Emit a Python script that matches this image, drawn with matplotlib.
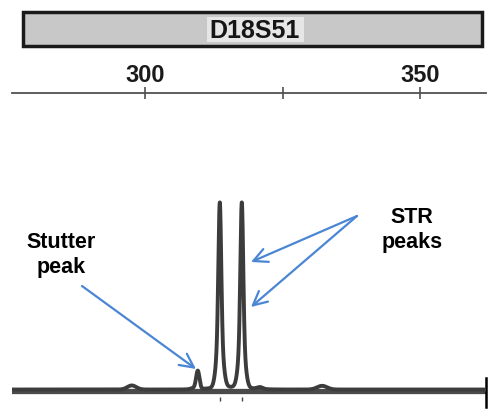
import numpy as np
import matplotlib
matplotlib.use("Agg")
import matplotlib.pyplot as plt
from matplotlib.patches import Rectangle

# ---- data ----
marker_name = "D18S51"
tick_positions = [300, 325, 350]
tick_labels = ["300", "", "350"]
# peak components: centre (bp), height (RFU-like units), width (sigma, bp)
peak_centers = [313.6, 317.6, 313.6, 317.6, 309.6, 297.6, 332.2, 315.6, 320.9, 309.0]
peak_heights = [700, 720, 300, 280, 95, 22, 20, 14, 10, 8]
peak_sigmas = [0.25, 0.25, 0.55, 0.55, 0.3, 0.8, 0.9, 3.2, 0.5, 0.6]
allele_marks = [313.6, 317.6]
stutter_label = "Stutter\npeak"
str_label = "STR\npeaks"

# ---- figure ----
fig = plt.figure(figsize=(5.0, 4.14), dpi=100)
W, H = 500, 414

def fx(px):
    return px / W

def fy(py):
    return 1 - py / H

# banner
fig.patches.append(Rectangle((fx(23), fy(47)), fx(482) - fx(23), fy(13) - fy(47),
                             transform=fig.transFigure, facecolor="#c8c8c8",
                             edgecolor="#1a1a1a", linewidth=2.5))
fig.patches.append(Rectangle((fx(207), fy(43)), fx(304) - fx(207), fy(18) - fy(43),
                             transform=fig.transFigure, facecolor="#e6e6e6",
                             edgecolor="none"))
fig.text(fx(255), fy(31), marker_name, ha="center", va="center",
         fontsize=18, fontweight="bold", family="Liberation Sans", color="#151515")

ax = fig.add_axes([fx(12), fy(404), fx(486) - fx(12), fy(94) - fy(404)])
ax.set_xlim(300 + (12 - 145) / 5.5, 300 + (486 - 145) / 5.5)
ax.set_ylim(-12 / 185 * 1000, (392 - 94) / 185 * 1000)

x = np.linspace(ax.get_xlim()[0], ax.get_xlim()[1], 6000)
y = np.zeros_like(x)
for c, h, s in zip(peak_centers, peak_heights, peak_sigmas):
    y += h * np.exp(-0.5 * ((x - c) / s) ** 2)

ax.axhline(0, color="#4a4a4a", linewidth=3.8, zorder=2)
ax.plot(x, y + 8, color="#3c3c3c", linewidth=2.8, zorder=3, solid_joinstyle="round")
ax.plot(allele_marks, [-45] * len(allele_marks), linestyle="none", marker="|",
        markersize=3, color="#444444")
# right end marker
ax.plot([ax.get_xlim()[1] - 0.05] * 2, [-85, 70], color="black", linewidth=1.8,
        clip_on=False)

for s in ["left", "right", "bottom"]:
    ax.spines[s].set_visible(False)
ax.spines["top"].set_color("#505050")
ax.spines["top"].set_linewidth(1.3)
ax.set_yticks([])
ax.xaxis.tick_top()
ax.set_xticks(tick_positions)
ax.set_xticklabels(tick_labels)
ax.tick_params(axis="x", direction="inout", length=9, width=1.2, color="#505050",
               pad=0.5, labelsize=17)
for lab in ax.get_xticklabels():
    lab.set_fontfamily("Liberation Sans")
    lab.set_fontweight("bold")
    lab.set_color("#1a1a1a")
ax.patch.set_alpha(0)

def bx(px):
    return (px - 145) / 5.5 + 300

def by(py):
    return (392 - py) / 185 * 1000

arrow_color = "#4a86d4"
aprops = dict(arrowstyle="->,head_length=1.0,head_width=0.5", color=arrow_color,
              lw=1.6, shrinkA=0, shrinkB=0)

ax.text(bx(61.5), by(255), stutter_label, ha="center", va="center",
        fontsize=15.5, fontweight="bold", family="Liberation Sans",
        linespacing=1.2, color="black")
ax.text(bx(412), by(230), str_label, ha="center", va="center",
        fontsize=15.5, fontweight="bold", family="Liberation Sans",
        linespacing=1.2, color="black")

ax.annotate("", xy=(bx(196), by(370)), xytext=(bx(82), by(287)), arrowprops=aprops)
ax.annotate("", xy=(bx(251), by(263)), xytext=(bx(357), by(217)), arrowprops=aprops)
ax.annotate("", xy=(bx(251), by(308)), xytext=(bx(357), by(217)), arrowprops=aprops)

fig.savefig("out.png", dpi=100, facecolor="white")
